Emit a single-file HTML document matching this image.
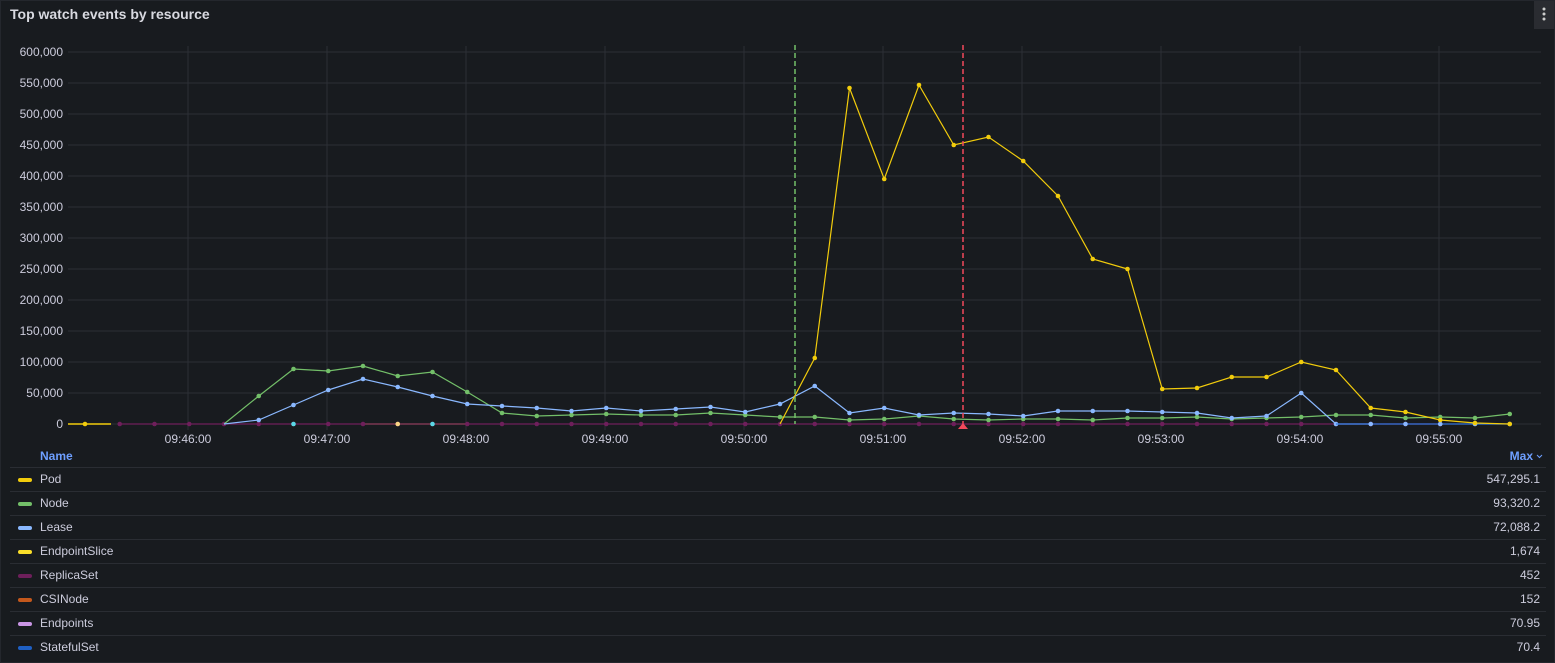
<!DOCTYPE html>
<html><head><meta charset="utf-8"><style>
body{margin:0;background:#111217;}
.p{position:relative;width:1553px;height:661px;background:#181b1f;border:1px solid #24272d;font-family:"Liberation Sans",sans-serif;color:#ccccdc;overflow:hidden}
.t{position:absolute;left:9px;top:5px;font-size:14px;font-weight:bold;color:#d8d9e0}
.m{position:absolute;right:0;top:0;width:20px;height:28px;background:#2a2c31}
svg{position:absolute;left:0;top:0}
.row{position:absolute;left:9px;width:1536px;height:23px;border-top:1px solid #2a2d33;font-size:12px;line-height:23px}
.row .s{position:absolute;left:8px;top:10px;width:14px;height:4px;border-radius:2px}
.row .n{position:absolute;left:30px}
.row .v{position:absolute;right:6px}
</style></head><body><div class="p">
<div class="t">Top watch events by resource</div>
<div class="m"><svg width="20" height="28"><circle cx="10" cy="8" r="1.5" fill="#ccc"/><circle cx="10" cy="13" r="1.5" fill="#ccc"/><circle cx="10" cy="18" r="1.5" fill="#ccc"/></svg></div>
<svg width="1555" height="663" font-family="Liberation Sans, sans-serif" font-size="12">
<defs>
<marker id="mp" markerWidth="6" markerHeight="6" refX="3" refY="3" markerUnits="userSpaceOnUse"><circle cx="3" cy="3" r="2.3" fill="#f2cc0c"/></marker>
<marker id="mg" markerWidth="6" markerHeight="6" refX="3" refY="3" markerUnits="userSpaceOnUse"><circle cx="3" cy="3" r="2.3" fill="#73bf69"/></marker>
<marker id="mb" markerWidth="6" markerHeight="6" refX="3" refY="3" markerUnits="userSpaceOnUse"><circle cx="3" cy="3" r="2.3" fill="#8ab8ff"/></marker>
<marker id="mr" markerWidth="6" markerHeight="6" refX="3" refY="3" markerUnits="userSpaceOnUse"><circle cx="3" cy="3" r="2.3" fill="#6e1f5b"/></marker>
</defs>
<g stroke="#2c2f35" stroke-width="1">
<line x1="67" x2="1540" y1="51" y2="51"/><line x1="67" x2="1540" y1="82" y2="82"/><line x1="67" x2="1540" y1="113" y2="113"/><line x1="67" x2="1540" y1="144" y2="144"/><line x1="67" x2="1540" y1="175" y2="175"/><line x1="67" x2="1540" y1="206" y2="206"/><line x1="67" x2="1540" y1="237" y2="237"/><line x1="67" x2="1540" y1="268" y2="268"/><line x1="67" x2="1540" y1="299" y2="299"/><line x1="67" x2="1540" y1="330" y2="330"/><line x1="67" x2="1540" y1="361" y2="361"/><line x1="67" x2="1540" y1="392" y2="392"/><line x1="67" x2="1540" y1="423" y2="423"/>
<line x1="187" x2="187" y1="45" y2="429"/><line x1="326" x2="326" y1="45" y2="429"/><line x1="465" x2="465" y1="45" y2="429"/><line x1="604" x2="604" y1="45" y2="429"/><line x1="743" x2="743" y1="45" y2="429"/><line x1="882" x2="882" y1="45" y2="429"/><line x1="1021" x2="1021" y1="45" y2="429"/><line x1="1160" x2="1160" y1="45" y2="429"/><line x1="1299" x2="1299" y1="45" y2="429"/><line x1="1438" x2="1438" y1="45" y2="429"/>
</g>
<g fill="#ccccdc" text-anchor="end">
<text x="62" y="55">600,000</text><text x="62" y="86">550,000</text><text x="62" y="117">500,000</text><text x="62" y="148">450,000</text><text x="62" y="179">400,000</text><text x="62" y="210">350,000</text><text x="62" y="241">300,000</text><text x="62" y="272">250,000</text><text x="62" y="303">200,000</text><text x="62" y="334">150,000</text><text x="62" y="365">100,000</text><text x="62" y="396">50,000</text><text x="62" y="427">0</text>
</g>
<g fill="#ccccdc" text-anchor="middle">
<text x="187" y="442">09:46:00</text><text x="326" y="442">09:47:00</text><text x="465" y="442">09:48:00</text><text x="604" y="442">09:49:00</text><text x="743" y="442">09:50:00</text><text x="882" y="442">09:51:00</text><text x="1021" y="442">09:52:00</text><text x="1160" y="442">09:53:00</text><text x="1299" y="442">09:54:00</text><text x="1438" y="442">09:55:00</text>
</g>
<polyline fill="none" stroke="#f2cc0c" stroke-width="1.5" points="67,423 110,423"/>
<polyline fill="none" stroke="#fade2a" stroke-width="1.2" points="362,423 465,423"/>
<polyline fill="none" stroke="#6e1f5b" stroke-width="1.2" marker-start="url(#mr)" marker-mid="url(#mr)" marker-end="url(#mr)" points="118.75,423 153.5,423 188.25,423 223,423 257.75,423 292.5,423 327.25,423 362,423 396.75,423 431.5,423 466.25,423 501,423 535.75,423 570.5,423 605.25,423 640,423 674.75,423 709.5,423 744.25,423 779,423 813.75,423 848.5,423 883.25,423 918,423 952.75,423 987.5,423 1022.25,423 1057,423 1091.75,423 1126.5,423 1161.25,423 1196,423 1230.75,423 1265.5,423 1300.25,423 1335,423 1369.75,423 1404.5,423 1439.25,423"/>
<polyline fill="none" stroke="#73bf69" stroke-width="1.2" marker-mid="url(#mg)" marker-end="url(#mg)" points="223,423 257.75,395 292.5,368 327.25,370 362,365 396.75,375 431.5,371 466.25,391 501,412 535.75,415 570.5,414 605.25,413 640,414 674.75,414 709.5,412 744.25,414 779,416 813.75,416 848.5,419 883.25,418 918,415 952.75,418 987.5,419 1022.25,418 1057,418 1091.75,419 1126.5,417 1161.25,417 1196,416 1230.75,418 1265.5,417 1300.25,416 1335,414 1369.75,414 1404.5,417 1439.25,416 1474,417 1508.75,413"/>
<polyline fill="none" stroke="#8ab8ff" stroke-width="1.2" marker-mid="url(#mb)" points="223,423 257.75,419 292.5,404 327.25,389 362,378 396.75,386 431.5,395 466.25,403 501,405 535.75,407 570.5,410 605.25,407 640,410 674.75,408 709.5,406 744.25,411 779,403 813.75,385 848.5,412 883.25,407 918,414 952.75,412 987.5,413 1022.25,415 1057,410 1091.75,410 1126.5,410 1161.25,411 1196,412 1230.75,417 1265.5,415 1300.25,392 1335,423 1369.75,423"/>
<polyline fill="none" stroke="#3274d9" stroke-width="1.2" marker-mid="url(#mb)" marker-end="url(#mb)" points="1335,423 1369.75,423 1404.5,423 1439.25,423 1474,423 1508.75,423"/>
<polyline fill="none" stroke="#f2cc0c" stroke-width="1.2" marker-mid="url(#mp)" marker-end="url(#mp)" points="779,423 813.75,357 848.5,87 883.25,178 918,84 952.75,144 987.5,136 1022.25,160 1057,195 1091.75,258 1126.5,268 1161.25,388 1196,387 1230.75,376 1265.5,376 1300.25,361 1335,369 1369.75,407 1404.5,411 1439.25,419 1474,422 1508.75,423"/>
<circle cx="84" cy="423" r="2.3" fill="#f2cc0c"/><circle cx="292.5" cy="423" r="2.3" fill="#5ad8e6"/><circle cx="396.75" cy="423" r="2.3" fill="#fad585"/><circle cx="431.5" cy="423" r="2.3" fill="#5ad8e6"/>
<line x1="794" x2="794" y1="44" y2="423" stroke="#73bf69" stroke-width="1.5" stroke-dasharray="5,3"/>
<line x1="962" x2="962" y1="44" y2="423" stroke="#f2495c" stroke-width="1.5" stroke-dasharray="5,3"/>
<polygon points="957,428 967,428 962,422" fill="#f2495c"/>
<text x="39" y="459" fill="#6e9fff" font-weight="bold">Name</text>
<text x="1532" y="459" fill="#6e9fff" font-weight="bold" text-anchor="end">Max</text>
<path d="M1536,454 l2.5,2.5 l2.5,-2.5" stroke="#6e9fff" fill="none" stroke-width="1"/>
</svg>
<div class="row" style="top:466px"><span class="s" style="background:#f2cc0c"></span><span class="n">Pod</span><span class="v">547,295.1</span></div>
<div class="row" style="top:490px"><span class="s" style="background:#73bf69"></span><span class="n">Node</span><span class="v">93,320.2</span></div>
<div class="row" style="top:514px"><span class="s" style="background:#8ab8ff"></span><span class="n">Lease</span><span class="v">72,088.2</span></div>
<div class="row" style="top:538px"><span class="s" style="background:#fade2a"></span><span class="n">EndpointSlice</span><span class="v">1,674</span></div>
<div class="row" style="top:562px"><span class="s" style="background:#6e1f5b"></span><span class="n">ReplicaSet</span><span class="v">452</span></div>
<div class="row" style="top:586px"><span class="s" style="background:#c4581c"></span><span class="n">CSINode</span><span class="v">152</span></div>
<div class="row" style="top:610px"><span class="s" style="background:#ca95e5"></span><span class="n">Endpoints</span><span class="v">70.95</span></div>
<div class="row" style="top:634px"><span class="s" style="background:#1f60c4"></span><span class="n">StatefulSet</span><span class="v">70.4</span></div>
</div></body></html>
